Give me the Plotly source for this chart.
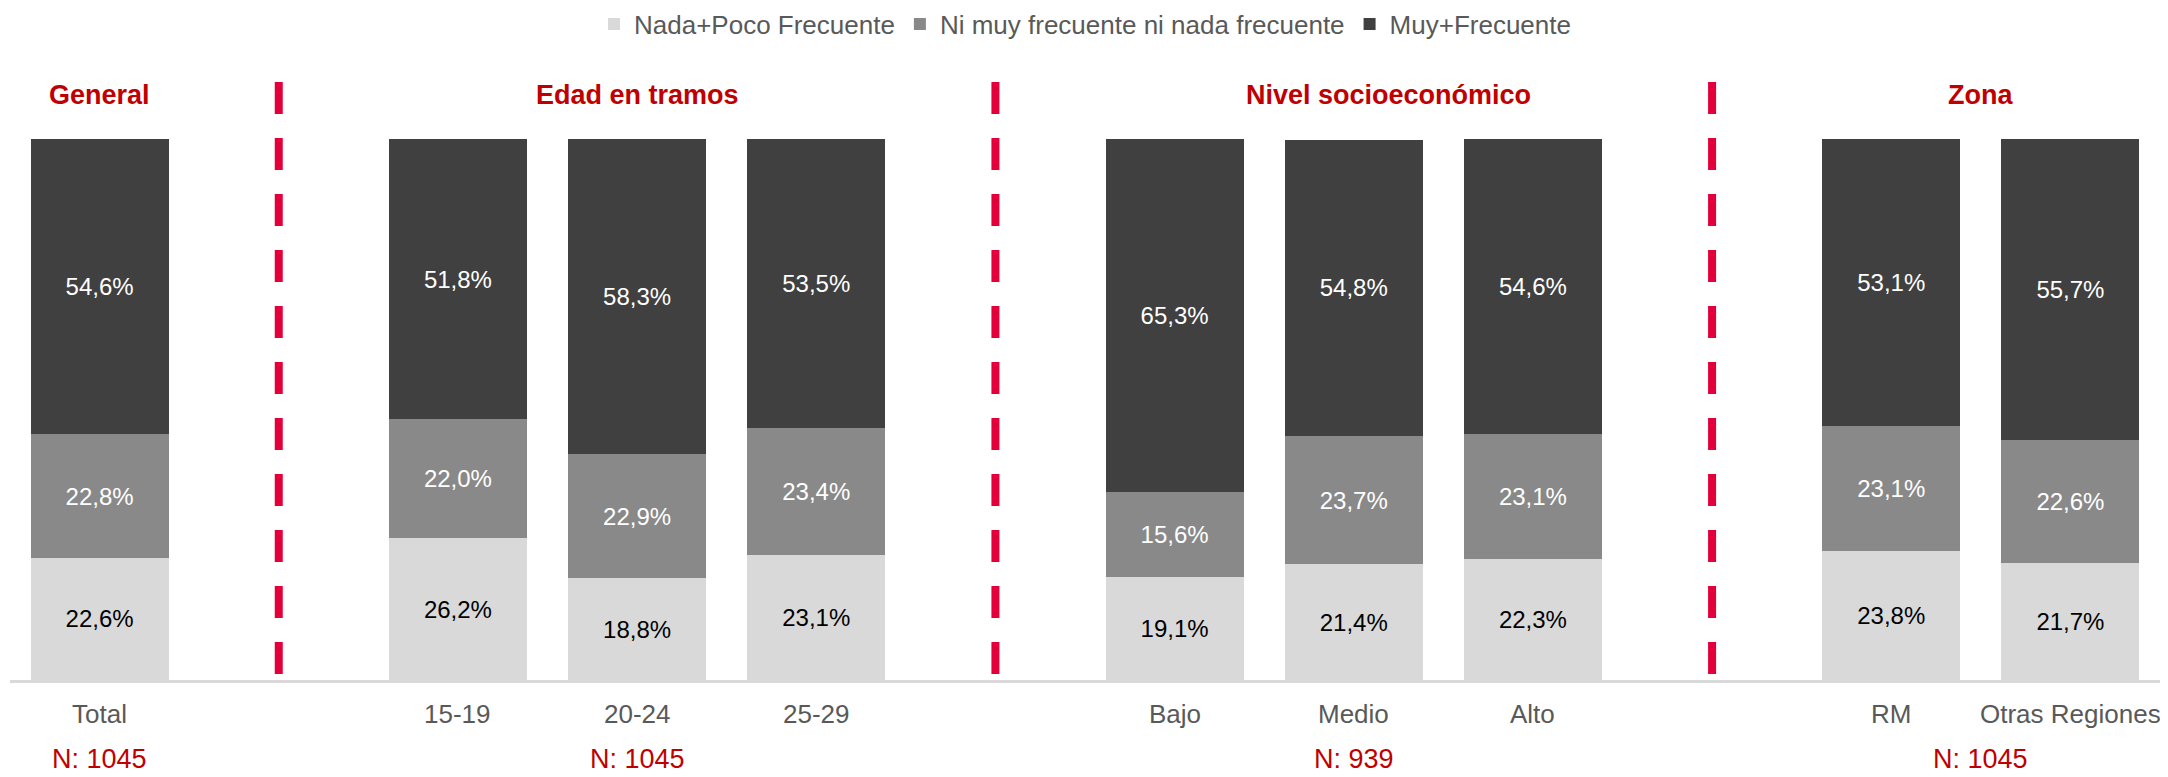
import plotly.graph_objects as go

# ---- data ----
groups = ["General", "Edad en tramos", "Nivel socioeconómico", "Zona"]
group_categories = [
    ["Total"],
    ["15-19", "20-24", "25-29"],
    ["Bajo", "Medio", "Alto"],
    ["RM", "Otras Regiones"],
]
group_n = ["N: 1045", "N: 1045", "N: 939", "N: 1045"]

series_names = ["Nada+Poco Frecuente", "Ni muy frecuente ni nada frecuente", "Muy+Frecuente"]
nada_poco = [22.6, 26.2, 18.8, 23.1, 19.1, 21.4, 22.3, 23.8, 21.7]
ni_muy = [22.8, 22.0, 22.9, 23.4, 15.6, 23.7, 23.1, 23.1, 22.6]
muy_frec = [54.6, 51.8, 58.3, 53.5, 65.3, 54.8, 54.6, 53.1, 55.7]

# ---- layout of slots (one empty slot between groups) ----
categories, xpos, group_centers, separators = [], [], [], []
slot = 0
for gi, cats in enumerate(group_categories):
    start = slot
    for c in cats:
        categories.append(c)
        xpos.append(slot)
        slot += 1
    group_centers.append((start + slot - 1) / 2)
    if gi < len(group_categories) - 1:
        separators.append(slot)
        slot += 1
n_slots = slot

FONT = "Liberation Sans, Arial, sans-serif"
colors = ["#D9D9D9", "#898989", "#404040"]
text_colors = ["#000000", "#FFFFFF", "#FFFFFF"]


def fmt(v):
    return f"{v:.1f}%".replace(".", ",")


fig = go.Figure()
for name, vals, col, tcol in zip(series_names, [nada_poco, ni_muy, muy_frec], colors, text_colors):
    fig.add_trace(go.Bar(
        x=xpos, y=vals, name=name,
        marker=dict(color=col, line=dict(width=0)),
        width=0.77,
        text=[fmt(v) for v in vals],
        textposition="inside", insidetextanchor="middle", textangle=0,
        textfont=dict(family=FONT, size=24, color=tcol),
        hoverinfo="skip",
    ))

# page has an 8px body margin: the figure occupies page pixels 8.. ; work in page pixels
OFF = 8
W, H = 2168 - OFF, 777 - OFF
PLOT_TOP, PLOT_BOTTOM = 139, 680          # page pixels
PLOT_LEFT, PLOT_RIGHT = 10, 2160          # page pixels
PH = PLOT_BOTTOM - PLOT_TOP


def py(px):
    return (PLOT_BOTTOM - px) / PH


annotations = []
# category labels
for c, x in zip(categories, xpos):
    annotations.append(dict(x=x, y=py(714), xref="x", yref="paper", text=c, showarrow=False,
                            xanchor="center", yanchor="middle",
                            font=dict(family=FONT, size=26, color="#595959")))
# group titles and N labels
title_shift = [0, 0, 35, 0]
for g, n, cx, sh in zip(groups, group_n, group_centers, title_shift):
    annotations.append(dict(x=cx, y=py(95), xref="x", yref="paper", text=f"<b>{g}</b>", showarrow=False,
                            xanchor="center", yanchor="middle", xshift=sh,
                            font=dict(family=FONT, size=27, color="#C00000")))
    annotations.append(dict(x=cx, y=py(759), xref="x", yref="paper", text=n, showarrow=False,
                            xanchor="center", yanchor="middle", borderpad=0,
                            font=dict(family=FONT, size=27, color="#C00000")))

shapes = []
for s in separators:
    shapes.append(dict(type="line", xref="x", yref="paper", x0=s, x1=s, y0=py(82), y1=py(675),
                       line=dict(color="#E3003A", width=8, dash="32px,24px")))

fig.update_layout(
    width=W, height=H, autosize=False,
    margin=dict(l=PLOT_LEFT - OFF, r=2168 - PLOT_RIGHT, t=PLOT_TOP - OFF, b=777 - PLOT_BOTTOM,
                pad=0, autoexpand=False),
    barmode="stack",
    plot_bgcolor="white", paper_bgcolor="white",
    font=dict(family=FONT),
    showlegend=True,
    legend=dict(orientation="h", x=0.5, xanchor="center", y=py(24), yanchor="middle",
                traceorder="normal", font=dict(family=FONT, size=26, color="#595959"),
                itemclick=False, bgcolor="rgba(0,0,0,0)"),
    xaxis=dict(range=[-0.5, n_slots - 0.5], showticklabels=False, showgrid=False, zeroline=False,
               showline=True, linecolor="#D9D9D9", linewidth=3, ticks="", fixedrange=True),
    yaxis=dict(range=[0, 100], visible=False, fixedrange=True),
    annotations=annotations,
    shapes=shapes,
)

fig.write_html("out.html")
